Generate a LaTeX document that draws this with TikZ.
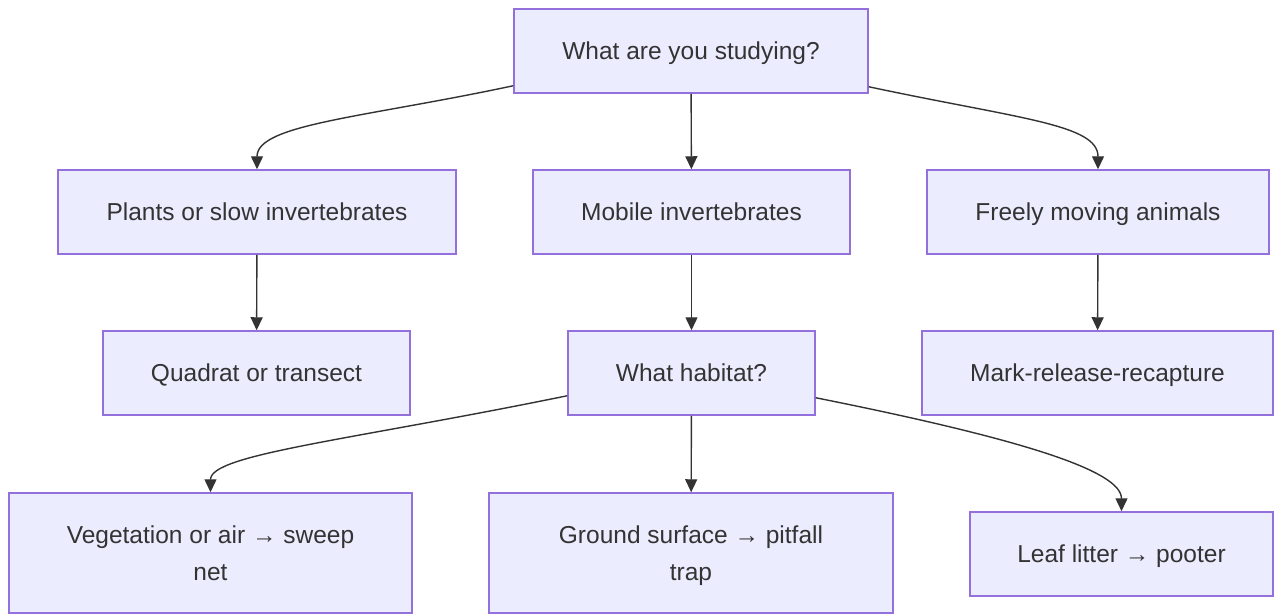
\documentclass[tikz,border=0pt]{standalone}
\usepackage{fontspec}
\setmainfont{Liberation Sans}
\usepackage{tikz}
\usetikzlibrary{arrows.meta}
\definecolor{MMFill}{HTML}{ECECFF}
\definecolor{MMLine}{HTML}{9370DB}
\definecolor{MMText}{HTML}{333333}
\newcommand{\lnstrut}{\rule[-6pt]{0pt}{29pt}}
\begin{document}
\begin{tikzpicture}[x=1pt,y=-1pt,
    basebox/.style={draw=MMLine,fill=MMFill,line width=1.5pt,inner sep=0pt,
      text=MMText,font=\fontsize{24.5}{37}\selectfont,align=center},
    box/.style={basebox,minimum height=84pt,text height=20pt,text depth=3pt},
    tallbox/.style={basebox,minimum height=120pt},
    arr/.style={draw=MMText,line width=1.4pt,-{Triangle[length=13pt,width=12pt]}}]
    \useasboundingbox (0,0) rectangle (1274,614);
    % Question boxes
    \node[box,minimum width=354pt] (study) at (691,51) {What are you studying?};
    \node[box,minimum width=398pt] (plants) at (257,212) {Plants or slow invertebrates};
    \node[box,minimum width=317pt] (mobile) at (691.5,212) {Mobile invertebrates};
    \node[box,minimum width=342pt] (free) at (1098,212) {Freely moving animals};
    \node[box,minimum width=307pt] (quadrat) at (256.5,373) {Quadrat or transect};
    \node[box,minimum width=247pt] (habitat) at (691.5,373) {What habitat?};
    \node[box,minimum width=351pt] (mrr) at (1097.5,373) {Mark-release-recapture};
    % Habitat methods
    \node[tallbox,minimum width=403pt] (sweep) at (210.5,553) {\lnstrut Vegetation or air → sweep\\\lnstrut net};
    \node[tallbox,minimum width=404pt] (pitfall) at (691,553) {\lnstrut Ground surface → pitfall\\\lnstrut trap};
    \node[box,minimum width=303pt] (pooter) at (1121.5,554) {Leaf litter → pooter};
    % Connectors
    \draw[arr] ([yshift=8pt]study.south west) .. controls +(-150,32) and +(0,-45) .. (plants.north);
    \draw[arr] (study) -- (mobile);
    \draw[arr] ([yshift=7pt]study.south east) .. controls +(150,32) and +(0,-45) .. (free.north);
    \draw[arr] (plants) -- (quadrat);
    \draw[arr] (mobile) -- (habitat);
    \draw[arr] (free) -- (mrr);
    \draw[arr] ([yshift=20pt]habitat.south west) .. controls +(-220,45) and +(0,-38) .. (sweep.north);
    \draw[arr] (habitat) -- (pitfall);
    \draw[arr] ([yshift=18pt]habitat.south east) .. controls +(210,42) and +(0,-40) .. (pooter.north);
  \end{tikzpicture}
\end{document}
